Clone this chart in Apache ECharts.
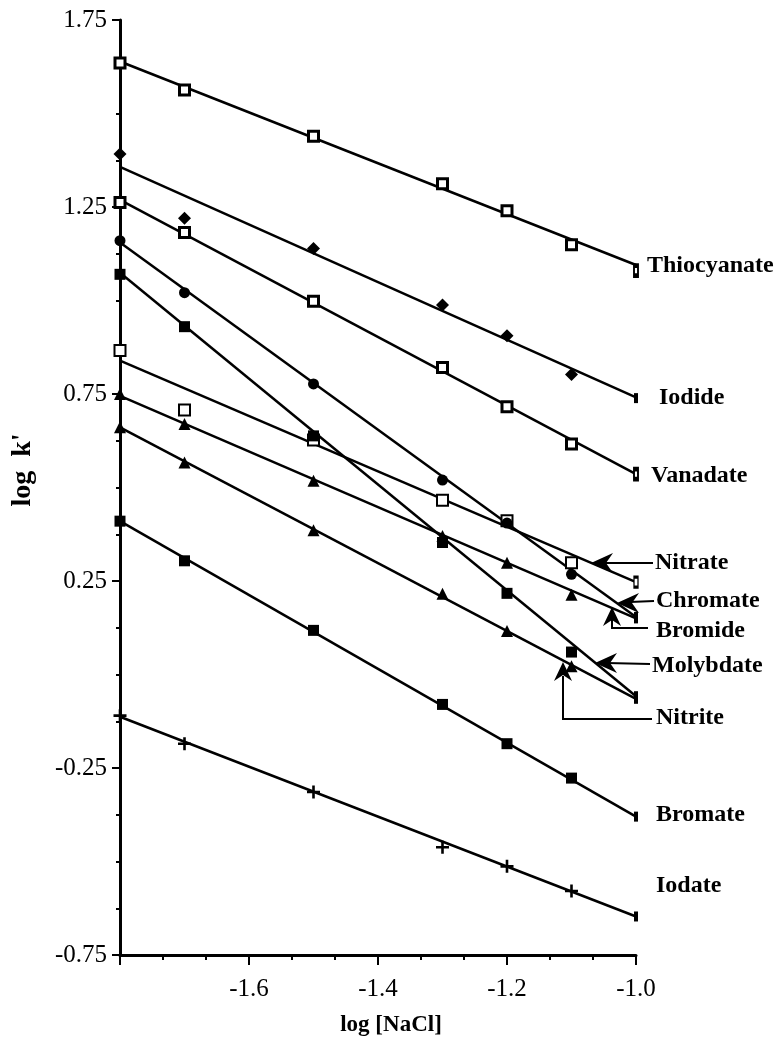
<!DOCTYPE html>
<html><head><meta charset="utf-8">
<script src="https://cdn.jsdelivr.net/npm/echarts@6/dist/echarts.min.js"></script>
<style>html,body{margin:0;padding:0;background:#fff}#c{width:775px;height:1040px}</style>
</head><body><div id="c"></div>
<script>
// x positions (log [NaCl]) of the measured points
const xValues = [-1.8, -1.7, -1.5, -1.3, -1.2, -1.1, -1.0];
// fitted-line end points at x = -1.8 and x = -1.0
const fitX = [-1.8, -1.0];

const thiocyanate = [1.635, 1.563, 1.439, 1.312, 1.240, 1.149, 1.080];
const thiocyanateFit = [1.639, 1.095];
const iodide = [1.392, 1.220, 1.139, 0.988, 0.906, 0.802, 0.739];
const iodideFit = [1.357, 0.741];
const vanadate = [1.262, 1.182, 0.998, 0.821, 0.716, 0.616, 0.536];
const vanadateFit = [1.269, 0.536];
const nitrate = [0.866, 0.707, 0.627, 0.466, 0.411, 0.299, 0.247];
const nitrateFit = [0.839, 0.247];
const chromate = [1.160, 1.021, 0.777, 0.520, 0.405, 0.268, 0.154];
const chromateFit = [1.155, 0.154];
const bromide = [0.750, 0.670, 0.518, 0.370, 0.299, 0.213, 0.150];
const bromideFit = [0.745, 0.150];
const molybdate = [1.070, 0.930, 0.638, 0.353, 0.217, 0.060, -0.058];
const molybdateFit = [1.074, -0.058];
const nitrite = [0.661, 0.567, 0.386, 0.216, 0.116, 0.022, -0.065];
const nitriteFit = [0.661, -0.065];
const bromate = [0.410, 0.304, 0.118, -0.080, -0.185, -0.277, -0.380];
const bromateFit = [0.410, -0.380];
const iodate = [-0.110, -0.185, -0.314, -0.462, -0.513, -0.579, -0.647];
const iodateFit = [-0.113, -0.647];

const xTicks = [-1.8, -1.6, -1.4, -1.2, -1.0];
const yTicks = [-0.75, -0.25, 0.25, 0.75, 1.25, 1.75];

const plusPath = 'path://M4,0H6V4H10V6H6V10H4V6H0V4H4Z';
const defs = [
  {name:'Thiocyanate', pts:thiocyanate, fit:thiocyanateFit, symbol:'rect', size:10, fill:'#fff', bw:3},
  {name:'Iodide', pts:iodide, fit:iodideFit, symbol:'diamond', size:13, fill:'#000', bw:0},
  {name:'Vanadate', pts:vanadate, fit:vanadateFit, symbol:'rect', size:10, fill:'#fff', bw:3},
  {name:'Nitrate', pts:nitrate, fit:nitrateFit, symbol:'rect', size:11, fill:'#fff', bw:2},
  {name:'Chromate', pts:chromate, fit:chromateFit, symbol:'circle', size:11, fill:'#000', bw:0},
  {name:'Bromide', pts:bromide, fit:bromideFit, symbol:'triangle', size:12, fill:'#000', bw:0},
  {name:'Molybdate', pts:molybdate, fit:molybdateFit, symbol:'rect', size:11, fill:'#000', bw:0},
  {name:'Nitrite', pts:nitrite, fit:nitriteFit, symbol:'triangle', size:12, fill:'#000', bw:0},
  {name:'Bromate', pts:bromate, fit:bromateFit, symbol:'rect', size:11, fill:'#000', bw:0},
  {name:'Iodate', pts:iodate, fit:iodateFit, symbol:plusPath, size:13, fill:'#000', bw:0}
];

const series = [];
defs.forEach(d => {
  series.push({
    type:'line', name:d.name+' fit', data: fitX.map((x,i)=>[x, d.fit[i]]),
    symbol:'none', silent:true, z:2, clip:false,
    lineStyle:{color:'#000', width:2.5}
  });
  series.push({
    type:'scatter', name:d.name, data: xValues.map((x,i)=>[x, d.pts[i]]),
    symbol: v => Math.abs(v[0]+1.0) < 1e-9 ? 'rect' : d.symbol,
    symbolSize: v => Math.abs(v[0]+1.0) < 1e-9 ? [4,10] : d.size,
    itemStyle:{color:d.fill, borderColor:'#000', borderWidth:d.bw, opacity:1},
    z:3, clip:false, silent:true
  });
});

const serif = '"Liberation Serif", "Times New Roman", serif';
const labelFont = 'bold 24px ' + serif;

function txt(t, x, y, extra) {
  return Object.assign({type:'text', x:x, y:y, silent:true, z:10,
    style:{text:t, font:labelFont, fill:'#000', verticalAlign:'middle', align:'left'}}, extra||{});
}
function arrowLeft(x, y) {
  return {type:'polygon', silent:true, z:10, shape:{points:[[x,y],[x+22,y-10],[x+15,y],[x+22,y+10]]}, style:{fill:'#000'}};
}
function arrowUp(x, y) {
  return {type:'polygon', silent:true, z:10, shape:{points:[[x,y],[x-9,y+19],[x,y+13],[x+9,y+19]]}, style:{fill:'#000'}};
}
function pline(pts) {
  return {type:'polyline', silent:true, z:10, shape:{points:pts}, style:{stroke:'#000', lineWidth:2, fill:null}};
}

const graphics = [
  txt('Thiocyanate', 647, 266),
  txt('Iodide', 659, 398),
  txt('Vanadate', 651, 476),
  txt('Nitrate', 655, 563),
  pline([[653,563],[606,563]]), arrowLeft(591,563),
  txt('Chromate', 656, 601),
  pline([[654,601],[630,602]]), arrowLeft(617,603),
  txt('Bromide', 656, 631),
  pline([[648,628],[612,628],[612,620]]), arrowUp(612,607),
  txt('Molybdate', 652, 666),
  pline([[650,664],[607,663]]), arrowLeft(595,663),
  txt('Nitrite', 656, 718),
  pline([[652,719],[563,719],[563,676]]), arrowUp(563,662),
  txt('Bromate', 656, 815),
  txt('Iodate', 656, 886),
  {type:'text', x:391, y:1025, silent:true,
   style:{text:'log [NaCl]', font:'bold 23px '+serif, fill:'#000', align:'center', verticalAlign:'middle'}},
  {type:'text', x:23, y:470, rotation:Math.PI/2, silent:true,
   style:{text:"log  k'", font:'bold 28px '+serif, fill:'#000', align:'center', verticalAlign:'middle'}}
];

const chart = echarts.init(document.getElementById('c'), null, {renderer:'canvas'});
chart.setOption({
  backgroundColor:'#fff',
  animation:false,
  grid:{left:120, right:139, top:20, bottom:85, containLabel:false},
  xAxis:{
    type:'value', min:xTicks[0], max:xTicks[xTicks.length-1], interval:0.2,
    axisLine:{show:true, onZero:false, lineStyle:{color:'#000', width:3}},
    axisTick:{show:true, inside:false, length:10, lineStyle:{color:'#000', width:2}},
    minorTick:{show:true, splitNumber:3, length:5, lineStyle:{color:'#000', width:2}},
    splitLine:{show:false},
    axisLabel:{margin:22, color:'#000', fontFamily:serif, fontSize:25,
      formatter: v => Math.abs(v - xTicks[0]) < 1e-9 ? '' : v.toFixed(1)}
  },
  yAxis:{
    type:'value', min:yTicks[0], max:yTicks[yTicks.length-1], interval:0.5,
    axisLine:{show:true, onZero:false, lineStyle:{color:'#000', width:3}},
    axisTick:{show:true, inside:false, length:8, lineStyle:{color:'#000', width:2}},
    minorTick:{show:true, splitNumber:4, length:4, lineStyle:{color:'#000', width:2}},
    splitLine:{show:false},
    axisLabel:{margin:13, color:'#000', fontFamily:serif, fontSize:25,
      formatter: v => v.toFixed(2)}
  },
  series: series,
  graphic: graphics
});
</script>
</body></html>
